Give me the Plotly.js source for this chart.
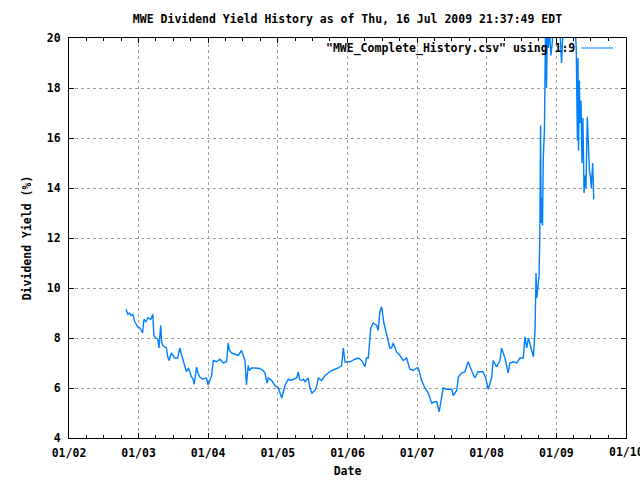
<!DOCTYPE html>
<html>
<head>
<meta charset="utf-8">
<script src="https://cdn.plot.ly/plotly-3.0.1.min.js"></script>
<style>html,body{margin:0;padding:0;background:#fff;overflow:hidden;}#chart{width:640px;height:480px;}</style>
</head>
<body>
<div id="chart"></div>
<script>
const dates = [
"2002-10-27","2002-11-02","2002-11-06","2002-11-14","2002-11-22","2002-12-02","2002-12-12","2002-12-20","2002-12-28",
"2003-01-08","2003-01-15","2003-01-22","2003-01-29","2003-02-08","2003-02-19","2003-03-06","2003-03-17","2003-03-22",
"2003-04-01","2003-04-12","2003-04-18","2003-04-27","2003-05-02","2003-05-08","2003-05-27","2003-06-03","2003-06-10",
"2003-06-22","2003-07-01","2003-07-09","2003-07-25","2003-08-05","2003-08-12","2003-08-20","2003-09-09","2003-09-20",
"2003-09-27","2003-10-05","2003-10-12","2003-10-20","2003-11-01","2003-11-08","2003-11-18","2003-12-04","2003-12-23",
"2004-01-01","2004-01-10","2004-01-19","2004-01-28","2004-02-14","2004-03-03","2004-03-20","2004-04-07","2004-04-15",
"2004-04-22","2004-05-03","2004-05-20","2004-06-07","2004-06-24","2004-07-05","2004-07-12","2004-07-20","2004-07-29",
"2004-08-05","2004-08-16","2004-09-02","2004-09-28","2004-10-16","2004-10-25","2004-11-05","2004-11-11","2004-11-29",
"2004-12-16","2005-01-03","2005-01-10","2005-01-21","2005-02-07","2005-02-24","2005-03-10","2005-03-23","2005-04-09",
"2005-04-18","2005-04-25","2005-05-06","2005-05-15","2005-05-23","2005-06-09","2005-06-18","2005-06-28","2005-07-14",
"2005-07-24","2005-08-01","2005-08-18","2005-09-05","2005-09-22","2005-10-10","2005-10-27","2005-11-13","2005-12-01",
"2005-12-10","2005-12-19","2006-01-14","2006-02-09","2006-02-27","2006-03-16","2006-04-03","2006-04-10","2006-04-20",
"2006-05-03","2006-05-16","2006-06-03","2006-06-11","2006-06-20","2006-06-29","2006-07-11","2006-07-28","2006-08-11",
"2006-08-20","2006-08-29","2006-09-15","2006-10-03","2006-10-20","2006-11-07","2006-11-24","2006-12-12","2006-12-30",
"2007-01-07","2007-01-25","2007-02-11","2007-03-01","2007-03-18","2007-04-05","2007-04-14","2007-04-27","2007-05-10",
"2007-05-18","2007-06-06","2007-06-20","2007-07-02","2007-07-10","2007-07-28","2007-08-06","2007-08-23","2007-09-09",
"2007-09-26","2007-10-14","2007-10-31","2007-11-17","2007-12-13","2007-12-27","2008-01-09","2008-01-27","2008-02-04",
"2008-02-22","2008-03-11","2008-03-19","2008-04-06","2008-04-23","2008-05-02","2008-05-20","2008-06-07","2008-06-24",
"2008-07-11","2008-07-20","2008-07-29","2008-08-07","2008-08-15","2008-08-24","2008-09-02","2008-09-11","2008-09-16",
"2008-09-20","2008-09-26","2008-10-02","2008-10-06","2008-10-10","2008-10-13","2008-10-16","2008-10-20","2008-10-24",
"2008-10-30","2008-11-05","2008-11-10","2008-11-14","2008-11-19","2008-11-26","2008-12-03","2008-12-10","2008-12-20",
"2009-01-04","2009-01-15","2009-01-28","2009-02-02","2009-02-10","2009-03-01","2009-03-20","2009-04-08","2009-04-15",
"2009-04-18","2009-04-21","2009-04-24","2009-04-27","2009-05-01","2009-05-05","2009-05-10","2009-05-15","2009-05-20",
"2009-05-26","2009-05-31","2009-06-05","2009-06-12","2009-06-18","2009-06-23","2009-06-28","2009-07-03","2009-07-10",
"2009-07-16"
];
const yields = [
9.15,9.05,8.95,9.0,8.9,8.95,8.65,8.55,8.45,
8.4,8.3,8.2,8.75,8.65,8.8,8.75,8.95,8.1,
8.0,7.95,7.6,8.5,7.85,7.7,7.6,7.25,7.1,
7.4,7.3,7.2,7.2,7.6,7.4,7.2,6.65,6.8,
6.6,6.45,6.4,6.15,6.84,6.6,6.44,6.36,6.4,
6.12,6.3,6.5,7.1,7.05,7.15,7.0,7.05,7.8,
7.5,7.4,7.35,7.3,7.5,7.2,7.1,6.12,6.9,
6.7,6.8,6.8,6.78,6.7,6.6,6.2,6.4,6.3,
6.1,6.0,5.85,5.6,6.1,6.35,6.3,6.35,6.4,
6.64,6.35,6.3,6.35,6.25,6.4,6.0,5.8,5.9,
6.1,6.4,6.3,6.5,6.6,6.7,6.75,6.8,6.9,
7.6,7.04,7.05,7.15,7.2,7.1,6.85,7.2,7.2,
8.4,8.6,8.5,8.3,9.05,9.25,8.6,8.0,7.6,
7.6,7.8,7.45,7.3,7.1,7.2,6.75,6.7,6.8,
6.8,6.3,6.0,5.8,5.4,5.45,5.45,5.05,5.7,
6.0,5.95,5.95,5.95,5.7,5.9,6.45,6.6,6.65,
7.05,6.7,6.4,6.65,6.65,6.4,5.95,6.4,7.1,
6.85,7.1,7.6,7.2,6.6,7.0,7.05,7.0,7.2,
7.2,8.05,7.6,8.0,7.8,7.5,7.25,8.3,10.6,
9.6,10.0,10.5,12.2,16.5,12.6,13.6,12.5,15.2,
16.3,20.5,18.0,20.3,19.6,20.2,19.3,19.8,21.5,
22.0,21.0,19.0,19.9,21.0,23.0,22.0,20.5,19.6,
17.6,15.9,19.2,15.5,18.3,16.6,17.5,15.0,16.8,
13.8,14.5,14.0,16.85,15.1,14.7,14.5,14.0,15.0,
13.55
];
const yearTicks = ["2002-01-01","2003-01-01","2004-01-01","2005-01-01","2006-01-01","2007-01-01","2008-01-01","2009-01-01","2010-01-01"];
const yearLabels = ["01/02","01/03","01/04","01/05","01/06","01/07","01/08","01/09","01/10"];
const seriesName = '"MWE_Complete_History.csv" using 1:9';

const FONT = "DejaVu Sans Mono, Liberation Mono, monospace";
const FS = 11.5;
const lineColor = "#0080ff";

const trace = {
  x: dates, y: yields, type: "scatter", mode: "lines",
  line: {color: lineColor, width: 1.4}, showlegend: false, name: seriesName
};

const fnt = {family: FONT, size: FS, color: "#000", weight: "bold"};

const layout = {
  width: 640, height: 480,
  margin: {l: 69, r: 14, t: 38, b: 42},
  paper_bgcolor: "#fff", plot_bgcolor: "#fff",
  font: fnt,
  title: {text: "MWE Dividend Yield History as of Thu, 16 Jul 2009 21:37:49 EDT",
          x: 0.5, xref: "paper", y: 1 - 19/480, yanchor: "middle", yref: "container",
          font: fnt},
  xaxis: {
    type: "date", range: ["2002-01-01", "2010-01-01"],
    tickmode: "array", tickvals: yearTicks, ticktext: yearLabels,
    ticks: "inside", ticklen: 5, tickcolor: "#000", tickwidth: 1,
    showline: true, linecolor: "#000", linewidth: 1, mirror: "allticks",
    showgrid: true, gridcolor: "#a0a0a0", griddash: "dot", gridwidth: 1,
    minor: {dtick: "M3", ticks: "inside", ticklen: 3, tickcolor: "#000", showgrid: false},
    zeroline: false, ticklabelstandoff: 4,
    title: {text: "Date", standoff: 8, font: fnt},
    tickfont: fnt
  },
  yaxis: {
    range: [4, 20], dtick: 2, tick0: 4,
    ticks: "inside", ticklen: 5, tickcolor: "#000", tickwidth: 1,
    showline: true, linecolor: "#000", linewidth: 1, mirror: "allticks",
    showgrid: true, gridcolor: "#a0a0a0", griddash: "dot", gridwidth: 1,
    zeroline: false, ticklabelstandoff: 5,
    title: {text: "Dividend Yield (%)", standoff: 12, font: fnt},
    tickfont: fnt
  },
  annotations: [{
    xref: "paper", yref: "paper", x: (577-69)/557, y: 1 - 10/400,
    xanchor: "right", yanchor: "middle", showarrow: false,
    text: seriesName, font: fnt
  }, {
    xref: "x", yref: "paper", x: "2010-01-01", y: -14/400,
    xanchor: "center", yanchor: "middle", showarrow: false,
    text: yearLabels[yearLabels.length - 1], font: fnt
  }],
  shapes: [{
    type: "line", xref: "paper", yref: "paper",
    x0: (581-69)/557, x1: (613-69)/557, y0: 1 - 10/400, y1: 1 - 10/400,
    line: {color: lineColor, width: 1}
  }]
};

Plotly.newPlot("chart", [trace], layout, {staticPlot: true, displayModeBar: false});
</script>
</body>
</html>
